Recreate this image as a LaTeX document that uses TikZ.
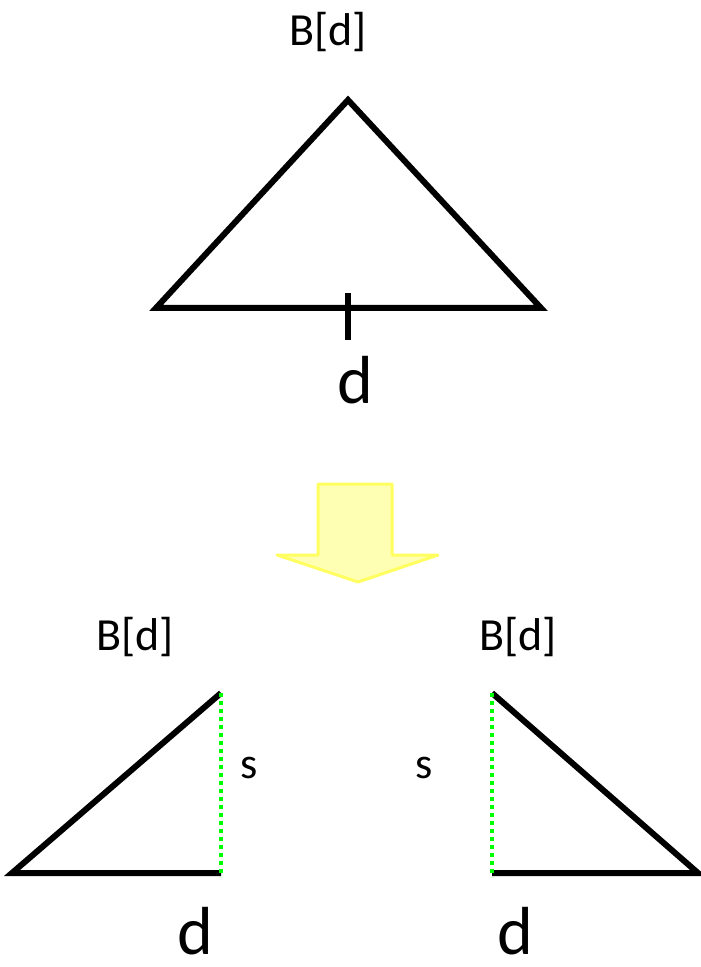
\documentclass[tikz,border=0pt]{standalone}
\usepackage{fontspec}
\setmainfont{Carlito}
\usetikzlibrary{positioning,calc}
\definecolor{arrowfill}{HTML}{FFFFB3}
\definecolor{arrowline}{HTML}{FFFF60}
\definecolor{cutgreen}{HTML}{00FF00}

\tikzset{
  edge/.style={line width=3pt, line join=miter},
  cutline/.style={line width=2.3pt, cutgreen, dash pattern=on 2pt off 2pt},
  bdlabel/.style={font=\fontsize{23}{23}\selectfont},
  dlabel/.style={font=\fontsize{34}{34}\selectfont, inner sep=0pt},
  slabel/.style={font=\fontsize{22}{22}\selectfont}
}

\begin{document}
\begin{tikzpicture}[x=0.5pt, y=-0.5pt]
  \useasboundingbox (0,0) rectangle (700,967);

  % whole triangle
  \coordinate (apex) at (348,100);
  \coordinate (left) at (156,308);
  \coordinate (right) at (541,308);
  \draw[edge] (left) -- (apex) -- (right) -- cycle;
  \draw[line width=3pt] (348,293) -- (348,340);
  \node[bdlabel] (btop) at (328,32) {B[d]};
  \node[dlabel] (dtop) at (355,380) {d};

  % arrow
  \draw[line width=1.5pt, arrowline, fill=arrowfill, line join=round]
    (318,484) -- (392,484) -- (392,555) -- (438,555) -- (358,582)
    -- (277,555) -- (318,555) -- cycle;

  % left half
  \coordinate (ltop) at (221,693);
  \coordinate (lleft) at (12,873);
  \coordinate (lfoot) at (221,873);
  \draw[edge] (ltop) -- (lleft) -- (lfoot);
  \draw[cutline] (ltop) -- ($(lfoot)+(0,4)$);
  \node[bdlabel] (bleft) at (135,637) {B[d]};
  \node[slabel] (sleft) at (249,768) {s};
  \node[dlabel] (dleft) at (195,931) {d};

  % right half
  \coordinate (rtop) at (492,693);
  \coordinate (rright) at (698,873);
  \coordinate (rfoot) at (492,873);
  \draw[edge] (rtop) -- (rright) -- (rfoot);
  \draw[cutline] (rtop) -- ($(rfoot)+(0,4)$);
  \node[bdlabel] (bright) at (518,637) {B[d]};
  \node[slabel] (sright) at (424,768) {s};
  \node[dlabel] (dright) at (515,931) {d};
\end{tikzpicture}
\end{document}
